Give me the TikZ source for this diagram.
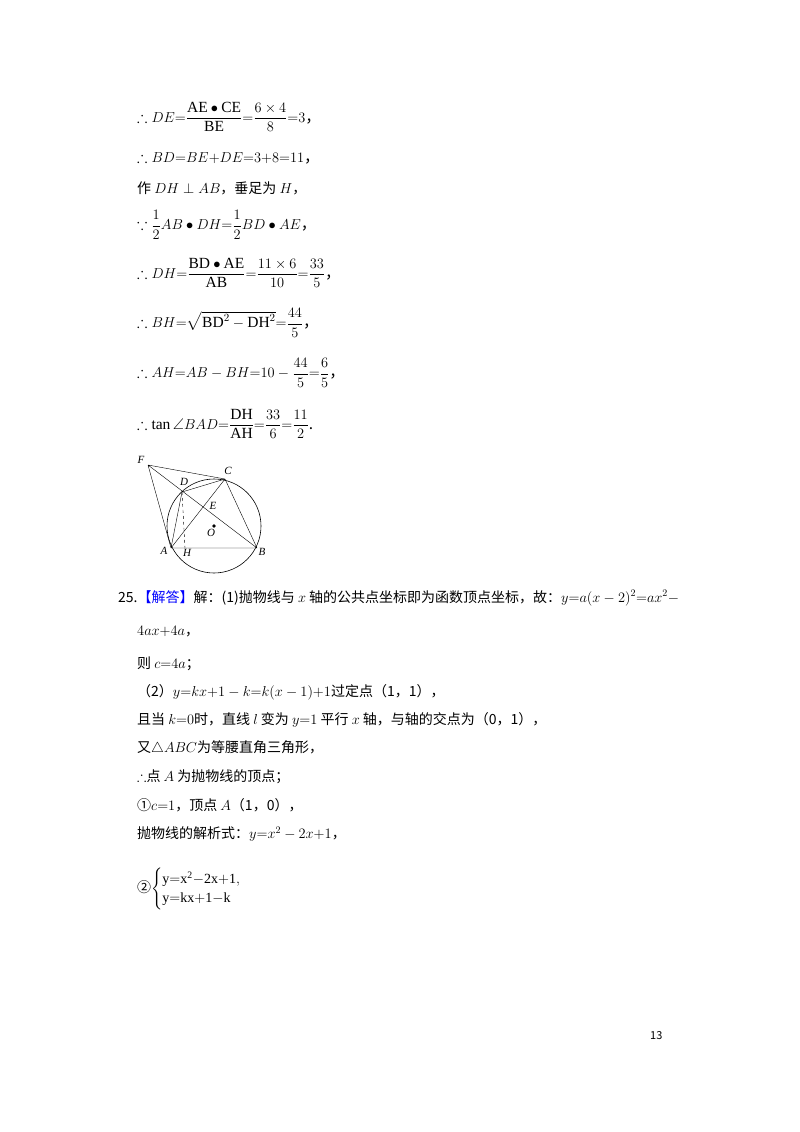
\documentclass[tikz,border=0pt]{standalone}
\usepackage{amsmath,amssymb}
\usepackage{fontspec}
\setmainfont{Liberation Serif}
\newfontfamily\cjk{Noto Sans CJK SC}
\begin{document}
\begin{tikzpicture}[x=1pt,y=-1pt,
  ln/.style={anchor=west,inner sep=0pt,font=\fontsize{14}{16}\selectfont\cjk},
  big/.style={anchor=west,inner sep=0pt,font=\fontsize{15.5}{18}\selectfont\cjk},
  lab/.style={font=\fontsize{11}{12}\selectfont\itshape,inner sep=1pt}]
\fill[white] (0,0) rectangle (800,1132);
\useasboundingbox (0,0) rectangle (800,1132);
\node[big] (l1) at (137,117) {$\therefore DE{=}\dfrac{\mathrm{AE}\bullet\mathrm{CE}}{\mathrm{BE}}{=}\dfrac{6\times4}{8}{=}3$，};
\node[big] (l2) at (137,158) {$\therefore BD{=}BE{+}DE{=}3{+}8{=}11$，};
\node[ln] (l3) at (137,188) {作 $DH\perp AB$，垂足为 $H$，};
\node[big] (l4) at (137,225) {$\because\dfrac{1}{2}AB\bullet DH{=}\dfrac{1}{2}BD\bullet AE$，};
\node[big] (l5) at (137,273) {$\therefore DH{=}\dfrac{\mathrm{BD}\bullet\mathrm{AE}}{\mathrm{AB}}{=}\dfrac{11\times6}{10}{=}\dfrac{33}{5}$，};
\node[big] (l6) at (137,323) {$\therefore BH{=}\sqrt{\mathrm{BD}^2-\mathrm{DH}^2}{=}\dfrac{44}{5}$，};
\node[big] (l7) at (137,373) {$\therefore AH{=}AB-BH{=}10-\dfrac{44}{5}{=}\dfrac{6}{5}$，};
\node[big] (l8) at (137,424) {$\therefore\tan\angle BAD{=}\dfrac{\mathrm{DH}}{\mathrm{AH}}{=}\dfrac{33}{6}{=}\dfrac{11}{2}$.};
% figure
\coordinate (F) at (148,465);
\coordinate (C) at (225,479);
\coordinate (D) at (182,492);
\coordinate (A) at (171,548);
\coordinate (B) at (257,548);
\coordinate (H) at (185,548);
\coordinate (O) at (214,526);
\draw[semithick] (O) circle (47);
\draw (F)--(C) (F)--(A) (F)--(B) (A)--(C) (D)--(C) (A)--(D) (C)--(B) (A)--(B);
\draw[dashed] (D)--(H);
\fill (O) circle (1.8);
\node[lab] (lF) at (141,460) {F};
\node[lab] (lC) at (228,471) {C};
\node[lab] (lD) at (184,482) {D};
\node[lab] (lE) at (213,506) {E};
\node[lab] (lO) at (211,533) {O};
\node[lab] (lA) at (164,551) {A};
\node[lab] (lH) at (187,553) {H};
\node[lab] (lB) at (262,552) {B};
% part 25
\node[ln] (m1) at (118,598) {25.\textcolor{blue}{【解答】}解：(1)抛物线与 $x$ 轴的公共点坐标即为函数顶点坐标，故：$y{=}a(x-2)^2{=}ax^2-$};
\node[ln] (m2) at (137,632) {$4ax{+}4a$，};
\node[ln] (m3) at (137,664) {则 $c{=}4a$；};
\node[ln] (m4) at (137,692) {（2）$y{=}kx{+}1-k{=}k(x-1){+}1$过定点（1，1），};
\node[ln] (m5) at (137,720) {且当 $k{=}0$时，直线 $l$ 变为 $y{=}1$ 平行 $x$ 轴，与轴的交点为（0，1），};
\node[ln] (m6) at (137,748) {又$\triangle ABC$为等腰直角三角形，};
\node[ln] (m7) at (137,777) {$\therefore$点 $A$ 为抛物线的顶点；};
\node[ln] (m8) at (137,805) {①$c{=}1$，顶点 $A$（1，0），};
\node[ln] (m9) at (137,834) {抛物线的解析式：$y{=}x^2-2x{+}1$，};
\node[ln] (m10) at (137,889) {②$\begin{cases}\mathrm{y{=}x^2{-}2x{+}1},\\ \mathrm{y{=}kx{+}1{-}k}\end{cases}$};
\node[ln] (pg) at (650,1036) {\fontsize{11}{12}\selectfont 13};
\end{tikzpicture}
\end{document}
